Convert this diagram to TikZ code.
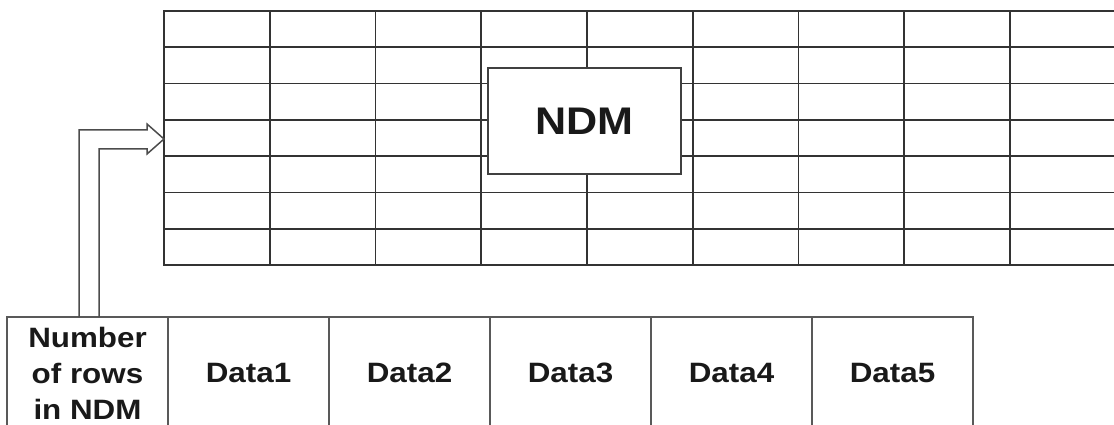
\documentclass[tikz,border=0pt]{standalone}
\usepackage{fontspec}
\setmainfont{Liberation Sans}[FakeStretch=1.12]
\usetikzlibrary{calc}
\begin{document}
\begin{tikzpicture}[x=1pt,y=-1pt,
  gridline/.style={line width=1.8pt, draw=black!80, line cap=rect},
  cell/.style={draw=black!65, line width=1.6pt, minimum width=161pt, minimum height=112pt,
    inner sep=0pt, outer sep=0pt, anchor=north west, align=center, text=black!90,
    font=\bfseries\fontsize{28}{36}\selectfont},
  ndmbox/.style={draw=black!75, fill=white, line width=1.6pt, minimum width=193pt,
    minimum height=106pt, inner sep=0pt, text=black!90,
    font=\bfseries\fontsize{38.5}{40}\selectfont},
  arrowline/.style={draw=black!70, line width=1.5pt, line join=miter}]
\useasboundingbox (0,0) rectangle (1114,425);
\clip (0,0) rectangle (1114,425);
% grid
\foreach \i in {0,...,7} \draw[gridline] (164,{11+\i*36.286}) -- (1120,{11+\i*36.286});
\foreach \j in {0,...,8} \draw[gridline] ({164+\j*105.75},11) -- ({164+\j*105.75},265);
\coordinate (gridtip) at (164,139);
% NDM box
\node[ndmbox] (ndm) at (584.5,121) {NDM};
% bottom row
\node[cell] (c1) at (7,317) {Number\\of rows\\in NDM};
\node[cell] (c2) at (c1.north east) {Data1};
\node[cell] (c3) at (c2.north east) {Data2};
\node[cell] (c4) at (c3.north east) {Data3};
\node[cell] (c5) at (c4.north east) {Data4};
\node[cell] (c6) at (c5.north east) {Data5};
% hollow arrow
\draw[arrowline] ($(c1.north west)+(72,0)$) |- (147,130) -- (147,124) -- (gridtip)
  -- (147,154) -- (147,149) -| ($(c1.north west)+(92,0)$);
\end{tikzpicture}
\end{document}
